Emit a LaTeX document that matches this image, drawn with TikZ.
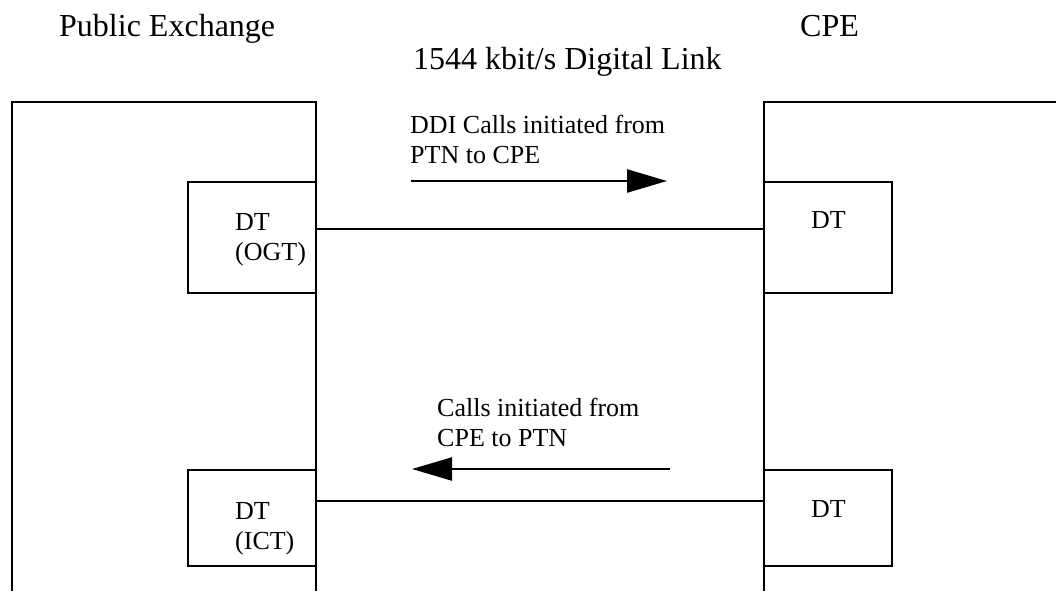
\documentclass[tikz,border=0pt]{standalone}
\usepackage{fontspec}
\setmainfont{Liberation Serif}
\usetikzlibrary{arrows.meta}

\begin{document}
\begin{tikzpicture}[x=1pt,y=-1pt,
    frame/.style={line width=1.6pt},
    dtbox/.style={draw,line width=1.6pt,minimum width=128pt,inner sep=0pt},
    small/.style={font=\fontsize{26}{30}\selectfont,inner sep=0pt,align=left},
    big/.style={font=\fontsize{32}{38}\selectfont,inner sep=0pt},
    callarrow/.style={line width=2.4pt,-{Triangle[length=40pt,width=23pt]}}]
      \useasboundingbox (0,0) rectangle (1056,591);
      % headings
      \node[big,anchor=base west] (pex) at (59,37) {Public Exchange};
      \node[big,anchor=base west] (cpe) at (800,37) {CPE};
      \node[big,anchor=base west] (link) at (413,70) {1544 kbit/s Digital Link};
      % exchange and CPE frames
      \draw[frame] (316,591) -- (316,102) -- (12,102) -- (12,591);
      \draw[frame] (764,591) -- (764,102) -- (1056,102);
      % digital trunks
      \node[dtbox,minimum height=111pt] (ogt) at (252,237.5) {};
      \node[dtbox,minimum height=96pt] (ict) at (252,518) {};
      \node[dtbox,minimum height=111pt] (dta) at (828,237.5) {};
      \node[dtbox,minimum height=96pt] (dtb) at (828,518) {};
      \node[small,anchor=base west] (ogtlab) at (235,260) {DT\\(OGT)};
      \node[small,anchor=base west] (ictlab) at (235,549) {DT\\(ICT)};
      \node[small,anchor=base west] (dtalab) at (811,228) {DT};
      \node[small,anchor=base west] (dtblab) at (811,517) {DT};
      % links
      \draw[line width=1.6pt] ([yshift=8.5pt]ogt.east) -- ([yshift=8.5pt]dta.west);
      \draw[line width=1.6pt] ([yshift=17pt]ict.east) -- ([yshift=17pt]dtb.west);
      % call directions
      \node[small,anchor=base west] (ddi) at (410,163) {DDI Calls initiated from\\PTN to CPE};
      \node[small,anchor=base west] (calls) at (437,446) {Calls initiated from\\CPE to PTN};
      \coordinate (a1) at (411,181);
      \coordinate (a2) at (667,181);
      \coordinate (b1) at (670,469);
      \coordinate (b2) at (412,469);
      \draw[callarrow] (a1) -- (a2);
      \draw[callarrow] (b1) -- (b2);
\end{tikzpicture}
\end{document}
